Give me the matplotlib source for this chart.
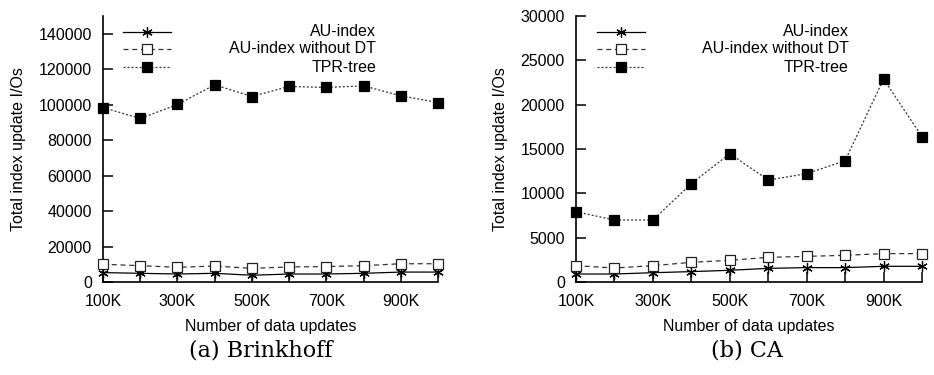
import matplotlib
matplotlib.use("Agg")
import matplotlib.pyplot as plt
from matplotlib.ticker import FixedLocator, FuncFormatter

plt.rcParams['font.family'] = ['Liberation Sans', 'DejaVu Sans']

# x positions: number of data updates (thousands)
updates_k = [100, 200, 300, 400, 500, 600, 700, 800, 900, 1000]
xtick_labels = ['100K', '300K', '500K', '700K', '900K']

# (a) Brinkhoff
brink_au = [5300, 4900, 4500, 4900, 3800, 4500, 4500, 4900, 5600, 5600]
brink_au_nodt = [10000, 9200, 8300, 9000, 7700, 8500, 8700, 9200, 10300, 10300]
brink_tpr = [98400, 92200, 100100, 111200, 104600, 110300, 109700, 110600, 105000, 101200]

# (b) CA
ca_au = [900, 900, 1050, 1170, 1320, 1540, 1620, 1620, 1770, 1770]
ca_au_nodt = [1840, 1580, 1840, 2220, 2440, 2780, 2890, 3010, 3200, 3200]
ca_tpr = [7930, 6990, 6990, 11090, 14470, 11500, 12220, 13680, 22890, 16390]

series_names = ['AU-index', 'AU-index without DT', 'TPR-tree']
captions = ['(a) Brinkhoff', '(b) CA']

W, H = 934, 375
fig = plt.figure(figsize=(W / 100, H / 100), dpi=100)

FS = 11.5
asterisk = (6, 2, 0)
styles = [
    dict(color='black', lw=0.9, ls='-', marker=asterisk, ms=7.5, mew=0.9,
         mfc='black', mec='black'),
    dict(color='#333333', lw=0.9, ls=(0, (4, 3)), marker='s', ms=6.5, mew=0.9,
         mfc='white', mec='#222222'),
    dict(color='#333333', lw=0.9, ls=(0, (1.6, 1.6)), marker='s', ms=6.5, mew=0.9,
         mfc='black', mec='black'),
]

def make_panel(rect, data, ymax, yticks, legend_x0, legend_x1, legend_tx):
    ax = fig.add_axes(rect)
    for vals, st in zip(data, styles):
        ax.plot(updates_k, vals, clip_on=False, zorder=3, **st)
    ax.set_xlim(updates_k[0], updates_k[-1])
    ax.set_ylim(0, ymax)
    ax.spines['top'].set_visible(False)
    ax.spines['right'].set_visible(False)
    for s in ('left', 'bottom'):
        ax.spines[s].set_linewidth(1.2)
    ax.xaxis.set_major_locator(FixedLocator([100, 300, 500, 700, 900]))
    ax.set_xticklabels(xtick_labels)
    ax.xaxis.set_minor_locator(FixedLocator([200, 400, 600, 800, 1000]))
    ax.yaxis.set_major_locator(FixedLocator(yticks))
    ax.yaxis.set_major_formatter(FuncFormatter(lambda v, p: f'{int(v)}'))
    ax.tick_params(axis='both', which='both', direction='in', length=7,
                   width=1.1, labelsize=FS, pad=8)
    ax.tick_params(axis='x', which='both', pad=9)
    ax.set_xlabel('Number of data updates', fontsize=FS, labelpad=7)
    ax.set_ylabel('Total index update I/Os', fontsize=FS, labelpad=9)

    # key: sample on the left, text right-justified
    rows = [0.940, 0.876, 0.808]
    for name, st, y in zip(series_names, styles, rows):
        ax.plot([legend_x0, legend_x1], [y, y], transform=ax.transAxes,
                clip_on=False, marker='None', color=st['color'], lw=st['lw'],
                ls=st['ls'])
        ax.plot([(legend_x0 + legend_x1) / 2], [y], transform=ax.transAxes,
                clip_on=False, ls='None', marker=st['marker'], ms=st['ms'],
                mew=st['mew'], mfc=st['mfc'], mec=st['mec'])
        ax.text(legend_tx, y, name, transform=ax.transAxes, ha='right',
                va='center', fontsize=FS)
    return ax

ax1 = make_panel([103 / W, 1 - 282 / H, 335 / W, 266 / H],
                 [brink_au, brink_au_nodt, brink_tpr], 150000,
                 list(range(0, 140001, 20000)), 0.060, 0.203, 0.815)
ax2 = make_panel([576 / W, 1 - 282 / H, 346 / W, 266 / H],
                 [ca_au, ca_au_nodt, ca_tpr], 30000,
                 list(range(0, 30001, 5000)), 0.061, 0.199, 0.789)

fig.text(261 / W, 1 - 350 / H, captions[0], ha='center', va='center',
         fontsize=16, family=['DejaVu Serif'])
fig.text(747 / W, 1 - 350 / H, captions[1], ha='center', va='center',
         fontsize=16, family=['DejaVu Serif'])

fig.savefig('out.png', dpi=100)
